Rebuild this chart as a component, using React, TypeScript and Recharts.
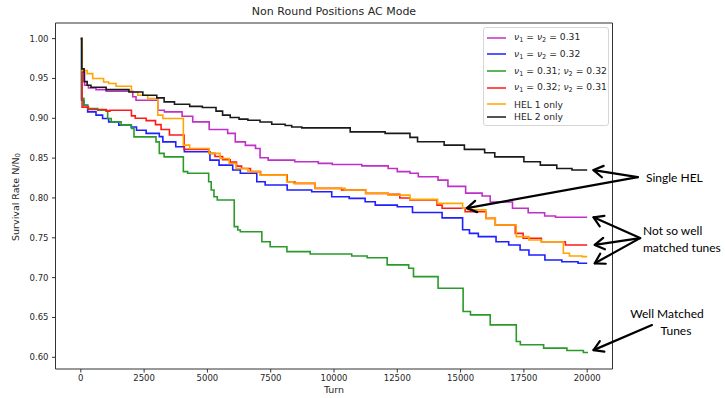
import React from 'react'
import { LineChart, Line, XAxis, YAxis, Legend, ReferenceArea, ReferenceLine } from 'recharts'

type Pt = [number, number]

// survival rate N/N0 against turn, one array of [turn, rate] per configuration
const equalTune031: Pt[] = [
  [0, 1.0], [40, 0.958], [150, 0.9415], [300, 0.938], [600, 0.936], [1000, 0.934], [2050, 0.927],
  [2180, 0.9227], [3040, 0.91], [3300, 0.908], [4000, 0.9026], [4420, 0.8955], [5070, 0.886],
  [5800, 0.881], [6100, 0.8704], [6500, 0.866], [6900, 0.862], [7080, 0.8504], [7400, 0.8475],
  [8450, 0.8454], [9380, 0.8434], [9930, 0.842], [11100, 0.8403], [12140, 0.837], [12500, 0.833],
  [13000, 0.831], [13330, 0.8266], [14110, 0.8224], [14500, 0.8145], [15200, 0.806], [15850, 0.8024],
  [16170, 0.795], [17050, 0.787], [17670, 0.7815], [18320, 0.7773], [18750, 0.7757], [20000, 0.7757],
]

const equalTune032: Pt[] = [
  [0, 1.0], [30, 0.9227], [120, 0.9164], [270, 0.908], [600, 0.904], [860, 0.8997], [1100, 0.8955],
  [1500, 0.8914], [1990, 0.889], [2200, 0.885], [2580, 0.881], [3100, 0.877], [3240, 0.8704],
  [3750, 0.8642], [4090, 0.858], [5100, 0.8475], [5460, 0.8412], [6000, 0.835], [6300, 0.831],
  [6950, 0.8203], [7280, 0.8162], [8150, 0.81], [9120, 0.8078], [9910, 0.8015], [10600, 0.7995],
  [11230, 0.7952], [11630, 0.791], [12500, 0.789], [13100, 0.7817], [14270, 0.775], [15080, 0.76],
  [15350, 0.7556], [15700, 0.7514], [16400, 0.745], [16900, 0.741], [17350, 0.7347], [17700, 0.7284],
  [18330, 0.7222], [19000, 0.72], [19640, 0.718], [20000, 0.718],
]

const splitTune031032: Pt[] = [
  [0, 1.0], [30, 0.925], [120, 0.9164], [270, 0.9123], [670, 0.91], [1060, 0.8997], [1200, 0.8955],
  [1590, 0.8914], [2000, 0.8872], [2100, 0.8767], [2970, 0.8704], [3100, 0.856], [3290, 0.8516],
  [4050, 0.833], [4220, 0.831], [5050, 0.8203], [5150, 0.81], [5260, 0.8015], [5390, 0.7974],
  [6060, 0.764], [6200, 0.7597], [6300, 0.7576], [7150, 0.745], [7480, 0.7388], [8140, 0.7326],
  [9060, 0.7297], [10700, 0.7272], [11310, 0.725], [12100, 0.716], [12950, 0.7118], [13140, 0.7013],
  [14110, 0.6867], [15100, 0.6574], [15390, 0.6533], [16170, 0.6407], [17200, 0.6198], [17360, 0.6157],
  [18280, 0.6115], [19200, 0.6085], [19850, 0.606], [20000, 0.605],
]

const splitTune032031: Pt[] = [
  [0, 1.0], [50, 0.914], [300, 0.911], [1000, 0.909], [1150, 0.91], [2000, 0.903], [2150, 0.9],
  [2580, 0.897], [2950, 0.892], [3170, 0.886], [3500, 0.879], [4080, 0.861], [5070, 0.856],
  [5300, 0.852], [5600, 0.848], [5900, 0.845], [6150, 0.84], [6350, 0.837], [6700, 0.833],
  [7100, 0.8287], [8150, 0.8203], [8450, 0.8183], [9250, 0.812], [10300, 0.81], [11250, 0.8058],
  [12140, 0.8045], [12600, 0.8], [13000, 0.7974], [14070, 0.791], [14270, 0.787], [15180, 0.7827],
  [16000, 0.7744], [16370, 0.766], [17160, 0.7556], [17470, 0.7494], [18190, 0.745], [19140, 0.741],
  [20000, 0.741],
]

const hel1Only: Pt[] = [
  [0, 1.0], [50, 0.96], [250, 0.956], [470, 0.95], [900, 0.9456], [1100, 0.9436], [1390, 0.9402],
  [2000, 0.933], [2250, 0.929], [2640, 0.9248], [3040, 0.904], [3240, 0.8997], [4050, 0.8663],
  [4300, 0.862], [5070, 0.856], [5500, 0.8496], [5860, 0.8434], [6130, 0.837], [6600, 0.833],
  [7080, 0.8287], [8130, 0.8203], [8400, 0.8183], [9250, 0.812], [10440, 0.81], [11250, 0.8058],
  [12140, 0.8036], [13000, 0.7982], [14090, 0.7932], [15080, 0.787], [15300, 0.785], [16000, 0.7744],
  [16370, 0.766], [17200, 0.7514], [17700, 0.7473], [18190, 0.745], [19060, 0.7306], [19300, 0.7272],
  [19800, 0.7263], [20000, 0.7263],
]

const hel2Only: Pt[] = [
  [0, 1.0], [40, 0.962], [130, 0.946], [250, 0.9415], [400, 0.939], [1000, 0.936], [1900, 0.933],
  [2450, 0.929], [3000, 0.9256], [3290, 0.9206], [3700, 0.9177], [4300, 0.915], [4800, 0.9135],
  [5340, 0.909], [5600, 0.904], [5900, 0.901], [6250, 0.899], [6600, 0.8975], [7080, 0.8954],
  [7540, 0.8925], [8070, 0.891], [8330, 0.889], [8730, 0.888], [10640, 0.883], [12020, 0.881],
  [13000, 0.876], [13300, 0.8705], [14350, 0.8663], [15150, 0.861], [15950, 0.8568], [16350, 0.8516],
  [17500, 0.8454], [18150, 0.8412], [18800, 0.837], [19400, 0.835], [20000, 0.835],
]

const seriesData = [equalTune031, equalTune032, splitTune031032, splitTune032031, hel1Only, hel2Only]
const seriesLabels = [
  'ν₁ = ν₂ = 0.31',
  'ν₁ = ν₂ = 0.32',
  'ν₁ = 0.31; ν₂ = 0.32',
  'ν₁ = 0.32; ν₂ = 0.31',
  'HEL 1 only',
  'HEL 2 only',
]
const seriesColors = ['#c030c8', '#1f1fff', '#2a9a2a', '#ff1a1a', '#ffa500', '#1a1a1a']

const xTicks = [0, 2500, 5000, 7500, 10000, 12500, 15000, 17500, 20000]
const yTicks = [0.6, 0.65, 0.7, 0.75, 0.8, 0.85, 0.9, 0.95, 1.0]
const xDomain: [number, number] = [-1000, 21000]
const yDomain: [number, number] = [0.5853, 1.0196]

const W = 725
const H = 398
const FONT = '"DejaVu Sans", sans-serif'
const NOTE_FONT = 'Lato, "Open Sans", sans-serif'

const lastRate = (pts: Pt[]) => pts[pts.length - 1][1]

// callout arrows: tail out in the right margin, head on a curve
const arrows = [
  { from: { x: 22000, y: 0.8261 }, to: { x: 20250, y: lastRate(hel2Only) } },
  { from: { x: 22000, y: 0.8261 }, to: { x: 15250, y: 0.7872 } },
  { from: { x: 22090, y: 0.7496 }, to: { x: 20250, y: lastRate(equalTune031) } },
  { from: { x: 22090, y: 0.7496 }, to: { x: 20300, y: lastRate(splitTune032031) } },
  { from: { x: 22090, y: 0.7496 }, to: { x: 20300, y: lastRate(equalTune032) } },
  { from: { x: 22560, y: 0.6405 }, to: { x: 20250, y: lastRate(splitTune031032) + 0.004 } },
]

const ArrowShape = (props: any) => {
  const { x1, y1, x2, y2 } = props
  const ang = Math.atan2(y2 - y1, x2 - x1)
  const len = 11
  const spread = 0.55
  const ax = x2 - len * Math.cos(ang - spread)
  const ay = y2 - len * Math.sin(ang - spread)
  const bx = x2 - len * Math.cos(ang + spread)
  const by = y2 - len * Math.sin(ang + spread)
  return (
    <g stroke="#000" strokeWidth={2.2} fill="none" strokeLinecap="round" strokeLinejoin="round">
      <line x1={x1} y1={y1} x2={x2} y2={y2} />
      <polyline points={`${ax},${ay} ${x2},${y2} ${bx},${by}`} />
    </g>
  )
}

// turns "ν₁" into an italic nu with a real subscript
const MathLabel = ({ text }: { text: string }) => {
  const parts: React.ReactNode[] = []
  for (let i = 0; i < text.length; i++) {
    const c = text[i]
    if (c === 'ν') parts.push(<i key={i}>ν</i>)
    else if (c === '₁' || c === '₂' || c === '₀') {
      parts.push(
        <sub key={i} style={{ fontSize: '0.72em', verticalAlign: '-0.25em' }}>
          {String.fromCharCode(c.charCodeAt(0) - 0x2080 + 48)}
        </sub>
      )
    } else parts.push(c)
  }
  return <span>{parts}</span>
}

const legendRowCenters = [9.7, 26.3, 43, 59.7, 76.3, 88.7]

const renderLegend = () => (
  <div
    style={{
      position: 'relative',
      width: 126,
      height: 99,
      boxSizing: 'border-box',
      border: '1px solid #d6d6d6',
      borderRadius: 3,
      background: 'rgba(255,255,255,0.85)',
      fontFamily: FONT,
      fontSize: 9.2,
      color: '#262626',
    }}
  >
    {seriesLabels.map((label, i) => (
      <div
        key={label}
        style={{ position: 'absolute', left: 0, top: legendRowCenters[i] - 7, height: 14, display: 'flex', alignItems: 'center', whiteSpace: 'nowrap' }}
      >
        <svg width={28} height={14} style={{ display: 'block' }}>
          <line x1={3} y1={7} x2={22} y2={7} stroke={seriesColors[i]} strokeWidth={1.5} />
        </svg>
        <span style={{ marginLeft: 2 }}>
          <MathLabel text={label} />
        </span>
      </div>
    ))}
  </div>
)

const abs = (s: React.CSSProperties): React.CSSProperties => ({
  position: 'absolute',
  whiteSpace: 'nowrap',
  pointerEvents: 'none',
  ...s,
})

export default function App() {
  const tick = { fontSize: 8.5, fill: '#262626', fontFamily: FONT }
  return (
    <div style={{ position: 'absolute', left: 0, top: 0, width: W, height: H, background: '#fff' }}>
      <LineChart width={W} height={H} margin={{ top: 23, right: 112.5, bottom: 9, left: 5.5 }}>
        <XAxis
          dataKey="turn"
          type="number"
          domain={xDomain}
          ticks={xTicks}
          allowDataOverflow
          axisLine={false}
          tickLine={{ stroke: '#333' }}
          tickSize={3.5}
          tickMargin={2}
          height={20}
          tick={tick}
          interval={0}
        />
        <YAxis
          type="number"
          domain={yDomain}
          ticks={yTicks}
          allowDataOverflow
          axisLine={false}
          tickLine={{ stroke: '#333' }}
          tickSize={3.5}
          tickMargin={3.5}
          width={50}
          tick={tick}
          interval={0}
          tickFormatter={(v: number) => v.toFixed(2)}
        />
        <ReferenceArea
          x1={xDomain[0]}
          x2={xDomain[1]}
          y1={yDomain[0]}
          y2={yDomain[1]}
          fill="none"
          stroke="#333"
          strokeWidth={1}
          ifOverflow="visible"
        />
        {seriesData.map((pts, i) => (
          <Line
            key={seriesLabels[i]}
            data={pts.map(([turn, rate]) => ({ turn, rate }))}
            dataKey="rate"
            name={seriesLabels[i]}
            type="stepAfter"
            stroke={seriesColors[i]}
            strokeWidth={1.6}
            dot={false}
            activeDot={false}
            isAnimationActive={false}
          />
        ))}
        {arrows.map((a, i) => (
          <ReferenceLine key={i} segment={[a.from, a.to]} ifOverflow="visible" shape={ArrowShape} />
        ))}
        <Legend
          layout="vertical"
          align="center"
          verticalAlign="middle"
          content={renderLegend}
          wrapperStyle={{ left: 483, top: 27, width: 126, height: 99 }}
        />
      </LineChart>

      <div style={abs({ left: 334, top: 11, transform: 'translate(-50%, -50%)', fontFamily: FONT, fontSize: 11, color: '#262626' })}>
        Non Round Positions AC Mode
      </div>
      <div style={abs({ left: 334, top: 389, transform: 'translate(-50%, -50%)', fontFamily: FONT, fontSize: 9.5, color: '#262626' })}>
        Turn
      </div>
      <div
        style={abs({ left: 16, top: 197, transform: 'translate(-50%, -50%) rotate(-90deg)', fontFamily: FONT, fontSize: 9.5, color: '#262626' })}
      >
        Survival Rate N/N<sub style={{ fontSize: '0.72em', verticalAlign: '-0.25em' }}>0</sub>
      </div>

      <div style={abs({ left: 646, top: 177, transform: 'translateY(-50%)', fontFamily: NOTE_FONT, fontSize: 12, color: '#000' })}>
        Single HEL
      </div>
      <div style={abs({ left: 643, top: 230, transform: 'translateY(-50%)', fontFamily: NOTE_FONT, fontSize: 12, color: '#000' })}>
        Not so well
      </div>
      <div style={abs({ left: 643, top: 247, transform: 'translateY(-50%)', fontFamily: NOTE_FONT, fontSize: 12, color: '#000' })}>
        matched tunes
      </div>
      <div style={abs({ left: 667, top: 313, transform: 'translate(-50%, -50%)', fontFamily: NOTE_FONT, fontSize: 12, color: '#000' })}>
        Well Matched
      </div>
      <div style={abs({ left: 676, top: 330, transform: 'translate(-50%, -50%)', fontFamily: NOTE_FONT, fontSize: 12, color: '#000' })}>
        Tunes
      </div>
    </div>
  )
}
